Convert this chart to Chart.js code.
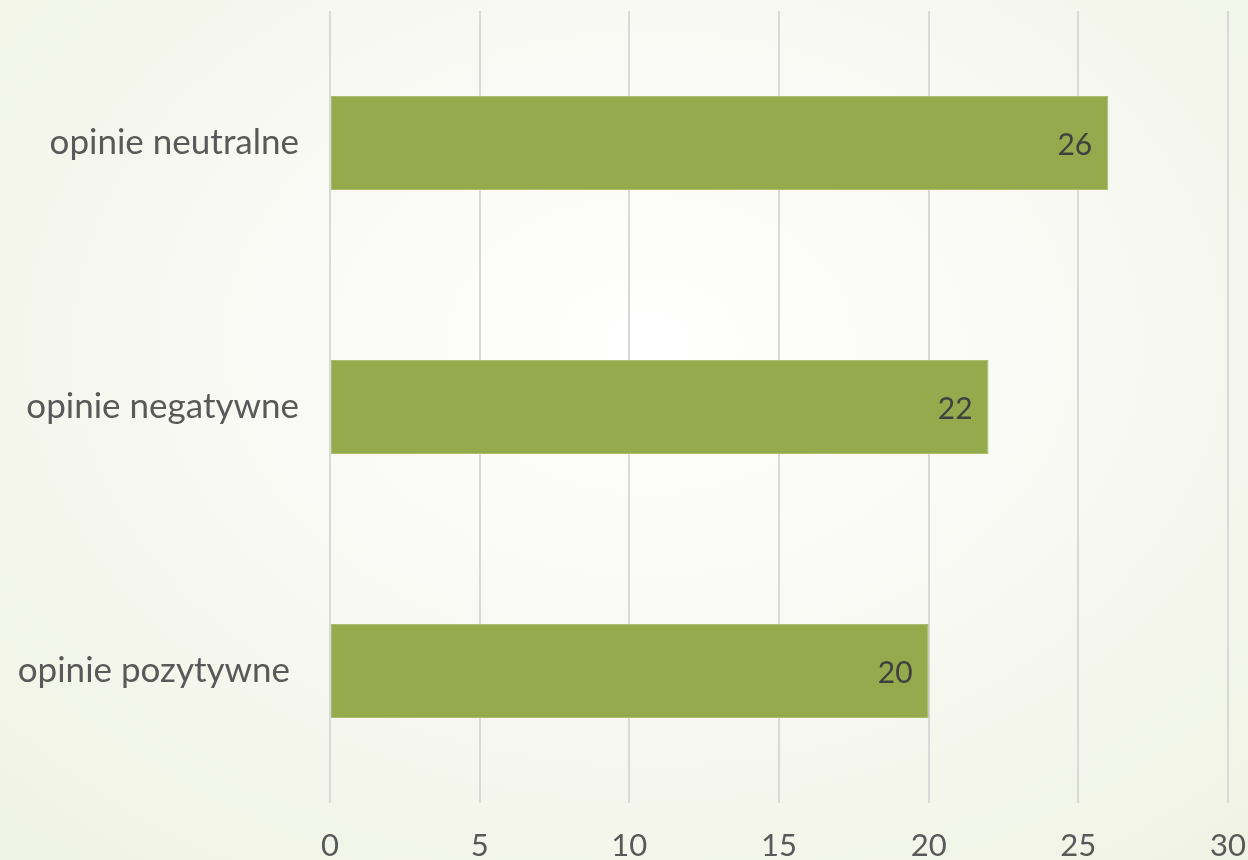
<!DOCTYPE html>
<html>
<head>
<meta charset="utf-8">
<script src="https://cdn.jsdelivr.net/npm/chart.js@4/dist/chart.umd.min.js"></script>
<style>
    html, body {
        margin: 0;
        padding: 0;
        width: 1248px;
        height: 860px;
        overflow: hidden;
        background: radial-gradient(ellipse 80% 85% at 52% 40%, #ffffff 0%, #f8f9f3 45%, #eef2e1 100%);
    }
    #wrap {
        position: relative;
        width: 1248px;
        height: 860px;
    }
</style>
</head>
<body>
<div id="wrap"><canvas id="chart"></canvas></div>
<script>
// chart data
const categories = ['opinie neutralne', 'opinie negatywne', 'opinie pozytywne '];
const values = [26, 22, 20];
const xTicks = [0, 5, 10, 15, 20, 25, 30];

const FONT = 'Lato, "DejaVu Sans", sans-serif';

// draw value at the inner end of each bar
const barValues = {
    id: 'barValues',
    afterDatasetsDraw(chart) {
        const ctx = chart.ctx;
        const meta = chart.getDatasetMeta(0);
        ctx.save();
        ctx.font = '30px ' + FONT;
        ctx.fillStyle = '#404040';
        ctx.textAlign = 'right';
        ctx.textBaseline = 'middle';
        meta.data.forEach((bar, i) => {
            ctx.fillText(String(values[i]), bar.x - 16, bar.y + 2);
        });
        ctx.restore();
    }
};

// the tick paddings should not shrink the plot area
function noEdgePadding(scale) {
    scale.paddingTop = 0;
    scale.paddingBottom = 0;
    scale.paddingLeft = 0;
    scale.paddingRight = 0;
}

const ctx = document.getElementById('chart').getContext('2d');
new Chart(ctx, {
    type: 'bar',
    data: {
        labels: categories,
        datasets: [{
            data: values,
            backgroundColor: '#94aa4c',
            borderColor: '#a9bd6b',
            borderWidth: 1,
            borderSkipped: false,
            categoryPercentage: 1,
            barPercentage: 0.356
        }]
    },
    options: {
        indexAxis: 'y',
        responsive: true,
        maintainAspectRatio: false,
        animation: false,
        layout: {
            padding: { top: 11, right: 20, left: 0, bottom: 0 }
        },
        plugins: {
            legend: { display: false },
            tooltip: { enabled: false }
        },
        scales: {
            x: {
                min: 0,
                max: 30,
                afterBuildTicks(scale) {
                    scale.ticks = xTicks.map(v => ({ value: v }));
                },
                afterFit(scale) {
                    scale.height = 57;
                    noEdgePadding(scale);
                },
                grid: {
                    color: '#d9d9d9',
                    lineWidth: 2,
                    drawTicks: false
                },
                border: { display: false },
                ticks: {
                    color: '#595959',
                    padding: 24,
                    font: { family: FONT, size: 31 }
                }
            },
            y: {
                afterFit(scale) {
                    scale.width = 330;
                    noEdgePadding(scale);
                },
                grid: { display: false, drawTicks: false },
                border: { display: false },
                ticks: {
                    color: '#595959',
                    padding: 31,
                    font: { family: FONT, size: 35 }
                }
            }
        }
    },
    plugins: [barValues]
});
</script>
</body>
</html>
